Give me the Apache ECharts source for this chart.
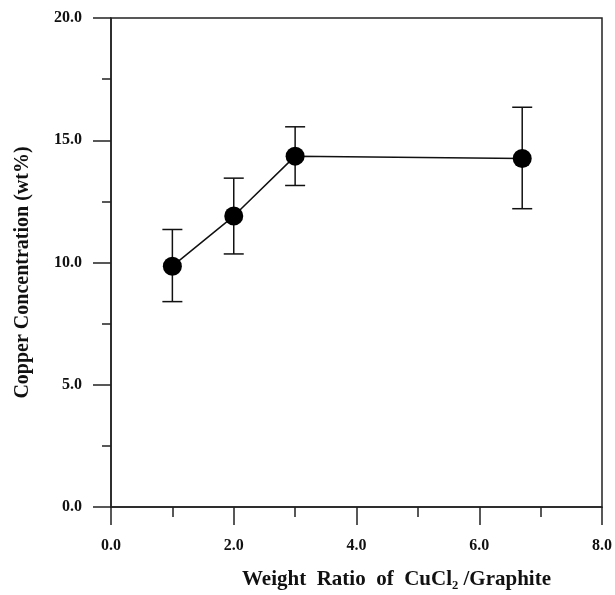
<!DOCTYPE html>
<html>
<head>
<meta charset="utf-8">
<script src="https://cdn.jsdelivr.net/npm/echarts@6/dist/echarts.min.js"></script>
<style>
  html, body { margin: 0; padding: 0; background: #fff; }
  #chart { width: 615px; height: 595px; }
</style>
</head>
<body>
<div id="chart"></div>
<script>
// weight ratio CuCl2 / graphite
var ratios = [1.0, 2.0, 3.0, 6.7];
// copper concentration (wt%)
var copper = [9.85, 11.9, 14.35, 14.25];
var errLow = [8.4, 10.35, 13.15, 12.2];
var errHigh = [11.35, 13.45, 15.55, 16.35];

var xTicks = [0, 2, 4, 6, 8];
var yTicks = [0, 5, 10, 15, 20];

var font = '"Liberation Serif", "Times New Roman", serif';

var points = ratios.map(function (r, i) { return [r, copper[i]]; });
var bars = ratios.map(function (r, i) { return [r, errLow[i], errHigh[i]]; });

var chart = echarts.init(document.getElementById('chart'));

chart.setOption({
  animation: false,
  grid: {
    left: 111,
    right: 12,
    top: 18,
    bottom: 88,
    show: true,
    borderColor: '#222',
    borderWidth: 1.5
  },
  xAxis: {
    type: 'value',
    min: xTicks[0],
    max: xTicks[xTicks.length - 1],
    interval: 2,
    name: 'Weight  Ratio  of  CuCl₂ /Graphite',
    nameLocation: 'middle',
    nameGap: 62,
    nameTextStyle: {
      fontFamily: font, fontWeight: 'bold', fontSize: 21, color: '#111',
      padding: [0, 0, 0, 80]
    },
    axisLine: { onZero: false, lineStyle: { color: '#222', width: 1.5 } },
    axisTick: { length: 18, lineStyle: { color: '#222', width: 1.5 } },
    minorTick: { show: true, splitNumber: 2, length: 10, lineStyle: { color: '#222', width: 1.5 } },
    axisLabel: {
      margin: 31,
      fontFamily: font,
      fontWeight: 'bold',
      fontSize: 16,
      color: '#111',
      formatter: function (v) { return v.toFixed(1); }
    },
    splitLine: { show: false }
  },
  yAxis: {
    type: 'value',
    min: yTicks[0],
    max: yTicks[yTicks.length - 1],
    interval: 5,
    name: 'Copper Concentration (wt%)',
    nameLocation: 'middle',
    nameGap: 78,
    nameTextStyle: {
      fontFamily: font, fontWeight: 'bold', fontSize: 20, color: '#111',
      padding: [0, 20, 0, 0]
    },
    axisLine: { onZero: false, lineStyle: { color: '#222', width: 1.5 } },
    axisTick: { length: 18, lineStyle: { color: '#222', width: 1.5 } },
    minorTick: { show: true, splitNumber: 2, length: 9, lineStyle: { color: '#222', width: 1.5 } },
    axisLabel: {
      margin: 29,
      fontFamily: font,
      fontWeight: 'bold',
      fontSize: 16,
      color: '#111',
      formatter: function (v) { return v.toFixed(1); }
    },
    splitLine: { show: false }
  },
  series: [
    {
      type: 'custom',
      data: bars,
      renderItem: function (params, api) {
        var x = api.value(0);
        var lo = api.coord([x, api.value(1)]);
        var hi = api.coord([x, api.value(2)]);
        var w = 10;
        var style = { stroke: '#111', lineWidth: 1.5 };
        return {
          type: 'group',
          children: [
            { type: 'line', shape: { x1: lo[0], y1: lo[1], x2: hi[0], y2: hi[1] }, style: style },
            { type: 'line', shape: { x1: lo[0] - w, y1: lo[1], x2: lo[0] + w, y2: lo[1] }, style: style },
            { type: 'line', shape: { x1: hi[0] - w, y1: hi[1], x2: hi[0] + w, y2: hi[1] }, style: style }
          ]
        };
      },
      z: 1
    },
    {
      type: 'line',
      data: points,
      symbol: 'circle',
      symbolSize: 19,
      lineStyle: { color: '#111', width: 1.5 },
      itemStyle: { color: '#000' },
      z: 2
    }
  ]
});
</script>
</body>
</html>
